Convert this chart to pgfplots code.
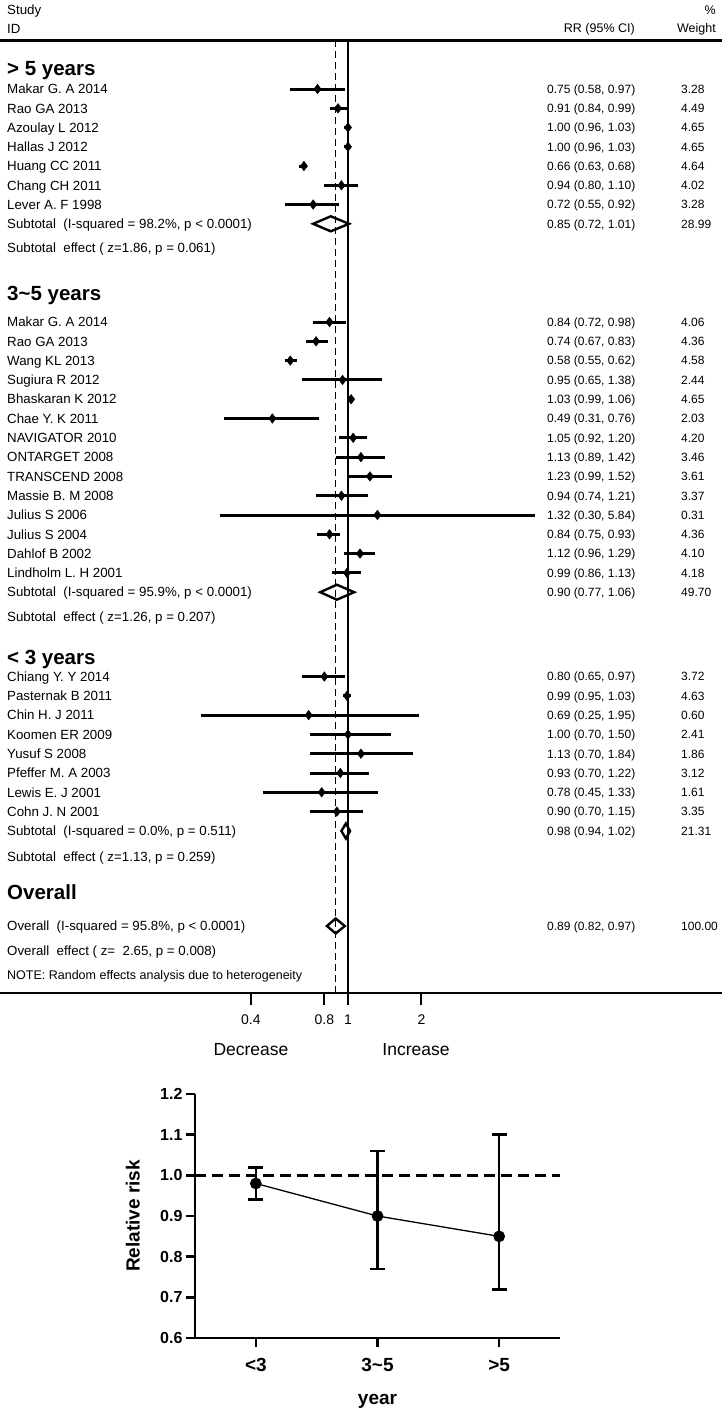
\documentclass[border=0pt]{standalone}
\usepackage{pgfplots}
\pgfplotsset{compat=1.18}
\usepackage{pgfplotstable}
\usepackage{fontspec}
\setmainfont{Liberation Sans}
\newcommand\fs[1]{\fontsize{#1}{#1}\selectfont}

% y = -(pixel row), rr, lo, hi
\pgfplotstableread{
y rr lo hi
-89 0.75 0.58 0.97
-108.3 0.91 0.84 0.99
-127.5 1.00 0.96 1.03
-146.8 1.00 0.96 1.03
-166 0.66 0.63 0.68
-185.3 0.94 0.80 1.10
-204.5 0.72 0.55 0.92
-322 0.84 0.72 0.98
-341.3 0.74 0.67 0.83
-360.6 0.58 0.55 0.62
-379.9 0.95 0.65 1.38
-399.2 1.03 0.99 1.06
-418.5 0.49 0.31 0.76
-437.8 1.05 0.92 1.20
-457.1 1.13 0.89 1.42
-476.4 1.23 0.99 1.52
-495.7 0.94 0.74 1.21
-515 1.32 0.30 5.84
-534.3 0.84 0.75 0.93
-553.6 1.12 0.96 1.29
-572.9 0.99 0.86 1.13
-676.5 0.80 0.65 0.97
-695.8 0.99 0.95 1.03
-715.1 0.69 0.25 1.95
-734.4 1.00 0.70 1.50
-753.7 1.13 0.70 1.84
-773 0.93 0.70 1.22
-792.3 0.78 0.45 1.33
-811.6 0.90 0.70 1.15
}\studies

\newcommand\row[4]{%
  \node[anchor=base west, inner sep=0pt, font=\fs{13.3}] at (7pt,{-(#1+4.7)*1pt}) {#2};
  \node[anchor=base west, inner sep=0pt, font=\fs{12}] at (547pt,{-(#1+4.3)*1pt}) {#3};
  \node[anchor=base west, inner sep=0pt, font=\fs{12}] at (681pt,{-(#1+4.3)*1pt}) {#4};}
\newcommand\lrow[2]{%
  \node[anchor=base west, inner sep=0pt, font=\fs{13.3}] at (7pt,{-(#1+4.7)*1pt}) {#2};}
\newcommand\head[2]{%
  \node[anchor=base west, inner sep=0pt, font=\bfseries\fs{20.5}] at (7pt,{-(#1+7.2)*1pt}) {#2};}

\begin{document}
\begin{tikzpicture}
\useasboundingbox (0pt,0pt) rectangle (722pt,-1409pt);

\begin{axis}[
  at={(0pt,-993pt)}, anchor=south west, scale only axis,
  width=722pt, height=953pt,
  xmode=log, xmin=0.03753, xmax=34.06, ymin=-993, ymax=-40,
  axis x line=bottom, axis y line=none,
  axis line style={-, line width=2.3pt},
  xtick={0.4,0.8,1,2}, xticklabels={0.4,0.8,1,2}, minor xtick={},
  ytick=\empty,
  tick align=outside, major tick length=12pt,
  xtick style={line width=2pt, black},
  xticklabel style={font=\fs{14}, yshift=-6pt},
  clip=false,
]
\addplot[line width=1.5pt, dash pattern=on 7pt off 4pt] coordinates {(0.89,-40) (0.89,-993)};
\addplot[line width=2pt] coordinates {(1,-40) (1,-993)};
\addplot[only marks, mark=diamond*, mark size=4.8pt, mark options={fill=black},
  error bars/.cd, x dir=both, x explicit, error mark=none,
  error bar style={line width=3pt}]
  table[x=rr, y=y, x error plus expr=\thisrow{hi}-\thisrow{rr},
        x error minus expr=\thisrow{rr}-\thisrow{lo}] {\studies};
% subtotal / overall diamonds
\addplot[line width=2.4pt, line join=miter] coordinates {(0.72,-223.8) (0.85,-216.3) (1.01,-223.8) (0.85,-231.3)} -- cycle;
\addplot[line width=2.4pt, line join=miter] coordinates {(0.77,-592.2) (0.90,-584.7) (1.06,-592.2) (0.90,-599.7)} -- cycle;
\addplot[line width=2.4pt, line join=miter] coordinates {(0.94,-831) (0.98,-823.5) (1.02,-831) (0.98,-838.5)} -- cycle;
\addplot[line width=2.4pt, line join=miter] coordinates {(0.82,-926) (0.89,-918.5) (0.97,-926) (0.89,-933.5)} -- cycle;
\end{axis}

\draw[line width=2.8pt] (0pt,-40.5pt) -- (722pt,-40.5pt);

% header
\node[anchor=base west, inner sep=0pt, font=\fs{13.3}] at (7pt,-14.7pt) {Study};
\node[anchor=base west, inner sep=0pt, font=\fs{13.3}] at (7pt,-33pt) {ID};
\node[anchor=base east, inner sep=0pt, font=\fs{12.5}] at (635pt,-32.6pt) {RR (95\% CI)};
\node[anchor=base east, inner sep=0pt, font=\fs{12.5}] at (716pt,-14.5pt) {\%};
\node[anchor=base east, inner sep=0pt, font=\fs{12.5}] at (716pt,-32.6pt) {Weight};

\head{68}{> 5 years}
\row{89}{Makar G. A 2014}{0.75 (0.58, 0.97)}{3.28}
\row{108.3}{Rao GA 2013}{0.91 (0.84, 0.99)}{4.49}
\row{127.5}{Azoulay L 2012}{1.00 (0.96, 1.03)}{4.65}
\row{146.8}{Hallas J 2012}{1.00 (0.96, 1.03)}{4.65}
\row{166}{Huang CC 2011}{0.66 (0.63, 0.68)}{4.64}
\row{185.3}{Chang CH 2011}{0.94 (0.80, 1.10)}{4.02}
\row{204.5}{Lever A. F 1998}{0.72 (0.55, 0.92)}{3.28}
\row{223.8}{Subtotal\ \ (I-squared = 98.2\%, p < 0.0001)}{0.85 (0.72, 1.01)}{28.99}
\lrow{248}{Subtotal\ \ effect ( z=1.86, p = 0.061)}

\head{293}{3\textasciitilde5 years}
\row{322}{Makar G. A 2014}{0.84 (0.72, 0.98)}{4.06}
\row{341.3}{Rao GA 2013}{0.74 (0.67, 0.83)}{4.36}
\row{360.6}{Wang KL 2013}{0.58 (0.55, 0.62)}{4.58}
\row{379.9}{Sugiura R 2012}{0.95 (0.65, 1.38)}{2.44}
\row{399.2}{Bhaskaran K 2012}{1.03 (0.99, 1.06)}{4.65}
\row{418.5}{Chae Y. K 2011}{0.49 (0.31, 0.76)}{2.03}
\row{437.8}{NAVIGATOR 2010}{1.05 (0.92, 1.20)}{4.20}
\row{457.1}{ONTARGET 2008}{1.13 (0.89, 1.42)}{3.46}
\row{476.4}{TRANSCEND 2008}{1.23 (0.99, 1.52)}{3.61}
\row{495.7}{Massie B. M 2008}{0.94 (0.74, 1.21)}{3.37}
\row{515}{Julius S 2006}{1.32 (0.30, 5.84)}{0.31}
\row{534.3}{Julius S 2004}{0.84 (0.75, 0.93)}{4.36}
\row{553.6}{Dahlof B 2002}{1.12 (0.96, 1.29)}{4.10}
\row{572.9}{Lindholm L. H 2001}{0.99 (0.86, 1.13)}{4.18}
\row{592.2}{Subtotal\ \ (I-squared = 95.9\%, p < 0.0001)}{0.90 (0.77, 1.06)}{49.70}
\lrow{617}{Subtotal\ \ effect ( z=1.26, p = 0.207)}

\head{657}{< 3 years}
\row{676.5}{Chiang Y. Y 2014}{0.80 (0.65, 0.97)}{3.72}
\row{695.8}{Pasternak B 2011}{0.99 (0.95, 1.03)}{4.63}
\row{715.1}{Chin H. J 2011}{0.69 (0.25, 1.95)}{0.60}
\row{734.4}{Koomen ER 2009}{1.00 (0.70, 1.50)}{2.41}
\row{753.7}{Yusuf S 2008}{1.13 (0.70, 1.84)}{1.86}
\row{773}{Pfeffer M. A 2003}{0.93 (0.70, 1.22)}{3.12}
\row{792.3}{Lewis E. J 2001}{0.78 (0.45, 1.33)}{1.61}
\row{811.6}{Cohn J. N 2001}{0.90 (0.70, 1.15)}{3.35}
\row{831}{Subtotal\ \ (I-squared = 0.0\%, p = 0.511)}{0.98 (0.94, 1.02)}{21.31}
\lrow{857}{Subtotal\ \ effect ( z=1.13, p = 0.259)}

\head{892}{Overall}
\row{926}{Overall\ \ (I-squared = 95.8\%, p < 0.0001)}{0.89 (0.82, 0.97)}{100.00}
\lrow{951}{Overall\ \ effect ( z=\ \ 2.65, p = 0.008)}
\node[anchor=base west, inner sep=0pt, font=\fs{12.5}] at (7pt,-979.5pt) {NOTE: Random effects analysis due to heterogeneity};

\node[font=\fs{17.5}] at (251pt,-1050pt) {Decrease};
\node[font=\fs{17.5}] at (416pt,-1050pt) {Increase};

% second chart
\begin{axis}[
  at={(195pt,-1338pt)}, anchor=south west, scale only axis,
  width=365pt, height=244pt,
  xmin=-0.5, xmax=2.5, ymin=0.6, ymax=1.2,
  axis lines=left, axis line style={-, line width=2.6pt},
  xtick={0,1,2}, xticklabels={{<3},{3\textasciitilde5},{>5}},
  ytick={0.6,0.7,0.8,0.9,1.0,1.1,1.2},
  tick align=outside, major tick length=9pt,
  tick style={line width=2.6pt, black},
  yticklabel style={font=\bfseries\fs{16}, /pgf/number format/.cd, fixed, fixed zerofill, precision=1, assume math mode=true},
  xticklabel style={font=\bfseries\fs{19}, yshift=-8pt},
  xlabel={year}, ylabel={Relative risk},
  every axis x label/.style={at={(axis description cs:0.5,-0.258)}, anchor=center},
  every axis y label/.style={at={(axis description cs:-0.17,0.5)}, anchor=center, rotate=90},
  label style={font=\bfseries\fs{19}},
  clip=false,
]
\addplot[line width=2.6pt, dash pattern=on 11pt off 6pt] coordinates {(-0.5,1) (2.5,1)};
\addplot[line width=1.3pt, mark=*, mark size=5.2pt, mark options={solid, fill=black},
  error bars/.cd, y dir=both, y explicit,
  error bar style={line width=2.6pt},
  error mark options={rotate=90, mark size=7.5pt, line width=2.6pt}]
  coordinates {(0,0.98) += (0,0.04) -= (0,0.04)
               (1,0.90) += (0,0.16) -= (0,0.13)
               (2,0.85) += (0,0.25) -= (0,0.13)};
\end{axis}
\end{tikzpicture}
\end{document}
